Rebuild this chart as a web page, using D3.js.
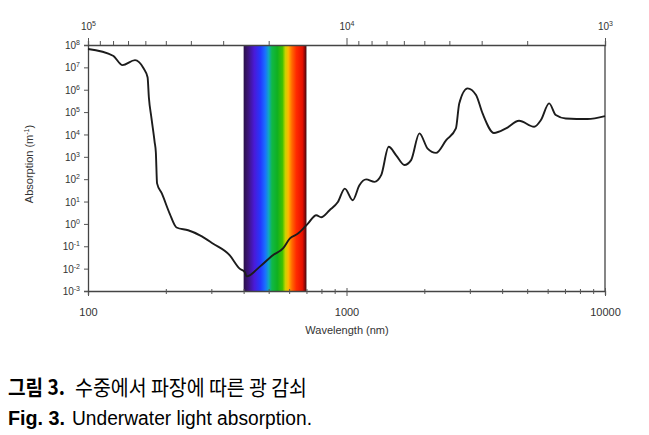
<!DOCTYPE html>
<html>
<head>
<meta charset="utf-8">
<script src="https://cdn.jsdelivr.net/npm/d3@7.9.0/dist/d3.min.js"></script>
<style>
  body { margin: 0; background: #fff; }
  svg { display: block; }
  .tick text { font-family: "Liberation Sans", Arial, sans-serif; }
</style>
</head>
<body>
<svg id="chart" width="649" height="435"></svg>
<script>
// water absorption
const wavelength = [100, 125, 136, 152, 164, 170, 172, 176, 181, 183, 185, 193, 207, 220, 244, 271, 305, 353, 386, 404,
  411, 461, 519, 568, 603, 649, 709, 764, 798, 860, 926, 985, 1057, 1122, 1191, 1283, 1362, 1456, 1556, 1675,
  1778, 1914, 2060, 2220, 2430, 2650, 2730, 2940, 3170, 3360, 3720, 4140, 4650, 5320, 5650, 6080, 6450, 7050,
  8550, 10000];
const absorption = [6.6e7, 3.3e7, 1.26e7, 2.1e7, 9.1e6, 3.6e6, 4.5e5, 5.4e4, 4.7e3, 1.6e3, 65, 23, 2.9, 0.69, 0.52, 0.31,
  0.13, 0.04, 0.01, 0.007, 0.0045, 0.012, 0.04, 0.08, 0.22, 0.37, 1.03, 2.45, 2.0, 4.1, 9.5, 38, 11.5, 54, 98, 76,
  151, 2800, 1170, 430, 710, 11200, 2340, 1500, 5600, 18600, 2.45e5, 1.15e6, 5.8e5, 8.7e4, 1.17e4, 1.86e4, 4.1e4,
  2.2e4, 4.4e4, 2.45e5, 7.4e4, 5.2e4, 4.9e4, 6.6e4];

const xMajor = [100, 1000, 10000];
const yExponents = [8, 7, 6, 5, 4, 3, 2, 1, 0, -1, -2, -3];
const topMajor = [1e5, 1e4, 1e3];

// visible band
const visibleRange = [400, 700];
const spectrumNm = [400, 415, 440, 465, 485, 500, 515, 540, 565, 580, 595, 615, 640, 675, 690, 700];
const spectrumColors = ['#2a1048', '#3c1478', '#4a1ad8', '#2438ff', '#1a70ff', '#10a8c0', '#10b848', '#10b020',
  '#40c000', '#c8d400', '#ffb800', '#ff6a00', '#ff2a00', '#e81000', '#8a0808', '#3a0c10'];

const svg = d3.select('#chart');
const x = d3.scaleLog().domain([100, 10000]).range([88, 605]);
const y = d3.scaleLog().domain([1e-3, 1e8]).range([291, 45]);
// wavenumber (cm^-1) on top
const xTop = d3.scaleLog().domain([1e5, 1e3]).range([88, 605]);

const minorTicks = [];
for (let d = 100; d < 10000; d *= 10) {
  for (let k = 1; k < 10; k++) minorTicks.push(d * k);
}
minorTicks.push(10000);
const topTicks = [];
for (let d = 1e3; d < 1e5; d *= 10) {
  for (let k = 1; k < 10; k++) topTicks.push(d * k);
}
topTicks.push(1e5);

// gradient for visible band
const defs = svg.append('defs');
const grad = defs.append('linearGradient')
  .attr('id', 'spectrum')
  .attr('gradientUnits', 'userSpaceOnUse')
  .attr('x1', x(visibleRange[0])).attr('x2', x(visibleRange[1]))
  .attr('y1', 0).attr('y2', 0);
spectrumNm.forEach((nm, i) => {
  grad.append('stop')
    .attr('offset', (x(nm) - x(visibleRange[0])) / (x(visibleRange[1]) - x(visibleRange[0])))
    .attr('stop-color', spectrumColors[i]);
});

svg.append('rect')
  .attr('x', x(visibleRange[0]))
  .attr('y', y(1e8))
  .attr('width', x(visibleRange[1]) - x(visibleRange[0]))
  .attr('height', y(1e-3) - y(1e8))
  .attr('fill', 'url(#spectrum)');

// frame: right side
svg.append('line')
  .attr('x1', x(10000)).attr('x2', x(10000))
  .attr('y1', y(1e8)).attr('y2', y(1e-3))
  .attr('stroke', '#444').attr('stroke-width', 1.3);

// bottom axis
const gBottom = svg.append('g')
  .attr('transform', `translate(0,${y(1e-3)})`)
  .call(d3.axisBottom(x).tickValues(minorTicks).tickSize(4)
    .tickFormat((d) => (xMajor.includes(d) ? d : '')));
gBottom.selectAll('.tick line')
  .attr('y1', (d) => (xMajor.includes(d) ? -3 : -2))
  .attr('y2', (d) => (xMajor.includes(d) ? 5 : 3));
gBottom.selectAll('.tick text').attr('y', 17).attr('font-size', 11).attr('fill', '#333');

// top axis
const gTop = svg.append('g')
  .attr('transform', `translate(0,${y(1e8)})`)
  .call(d3.axisTop(xTop).tickValues(topTicks).tickSize(4).tickFormat(''));
gTop.selectAll('.tick line')
  .attr('y2', (d) => (topMajor.includes(d) ? -7 : -4));
gTop.selectAll('.tick')
  .filter((d) => topMajor.includes(d))
  .append('text')
  .attr('y', -22)
  .attr('fill', '#333')
  .attr('font-size', 10)
  .attr('text-anchor', 'middle')
  .attr('dy', '0.71em')
  .call((t) => {
    t.append('tspan').text('10');
    t.append('tspan').attr('font-size', 7).attr('dy', -4)
      .text((d) => Math.round(Math.log10(d)));
  });

// left axis
const gLeft = svg.append('g')
  .attr('transform', `translate(${x(100)},0)`)
  .call(d3.axisLeft(y).tickValues(yExponents.map((e) => Math.pow(10, e))).tickSize(4).tickFormat(''));
gLeft.selectAll('.tick')
  .append('text')
  .attr('x', -8)
  .attr('dy', '0.36em')
  .attr('fill', '#333')
  .attr('font-size', 10)
  .attr('text-anchor', 'end')
  .call((t) => {
    t.append('tspan').text('10');
    t.append('tspan').attr('font-size', 7).attr('dy', -4)
      .text((d) => Math.round(Math.log10(d)));
  });

[gBottom, gTop, gLeft].forEach((g) => {
  g.select('.domain').attr('stroke', '#444').attr('stroke-width', 1.3);
  g.selectAll('.tick line').attr('stroke', '#555');
});

// absorption curve
const points = wavelength.map((w, i) => [w, absorption[i]]);
const line = d3.line()
  .x((d) => x(d[0]))
  .y((d) => y(d[1]))
  .curve(d3.curveMonotoneX);
svg.append('path')
  .datum(points)
  .attr('d', line)
  .attr('fill', 'none')
  .attr('stroke', '#1c1c1c')
  .attr('stroke-width', 1.9)
  .attr('stroke-linejoin', 'round');

// axis titles
svg.append('text')
  .attr('x', 347).attr('y', 334)
  .attr('text-anchor', 'middle')
  .attr('font-family', '"Liberation Sans", Arial, sans-serif')
  .attr('font-size', 11)
  .attr('fill', '#333')
  .text('Wavelength (nm)');

svg.append('text')
  .attr('transform', 'translate(33,164) rotate(-90)')
  .attr('text-anchor', 'middle')
  .attr('font-family', '"Liberation Sans", Arial, sans-serif')
  .attr('font-size', 11)
  .attr('fill', '#333')
  .call((t) => {
    t.append('tspan').text('Absorption (m');
    t.append('tspan').attr('font-size', 7).attr('dy', -4).text('-1');
    t.append('tspan').attr('dy', 4).text(')');
  });

// caption
const captionFont = '"Liberation Sans", Arial, "Noto Sans CJK KR", sans-serif';
const captions = [
  { bold: '그림 3.', boldLen: 57, rest: '수중에서 파장에 따른 광 감쇠', restX: 75, restLen: 232, y: 395, size: 21, font: '"Noto Sans CJK KR", sans-serif' },
  { bold: 'Fig. 3.', boldLen: 57, rest: 'Underwater light absorption.', restX: 72, restLen: 240, y: 425, size: 20, font: captionFont }
];
captions.forEach((c) => {
  svg.append('text')
    .attr('x', 8).attr('y', c.y)
    .attr('font-family', c.font)
    .attr('font-size', c.size)
    .attr('font-weight', 'bold')
    .attr('textLength', c.boldLen)
    .attr('lengthAdjust', 'spacingAndGlyphs')
    .attr('fill', '#000')
    .text(c.bold);
  svg.append('text')
    .attr('x', c.restX).attr('y', c.y)
    .attr('font-family', c.font)
    .attr('font-size', c.size)
    .attr('textLength', c.restLen)
    .attr('lengthAdjust', 'spacingAndGlyphs')
    .attr('fill', '#000')
    .text(c.rest);
});
</script>
</body>
</html>
